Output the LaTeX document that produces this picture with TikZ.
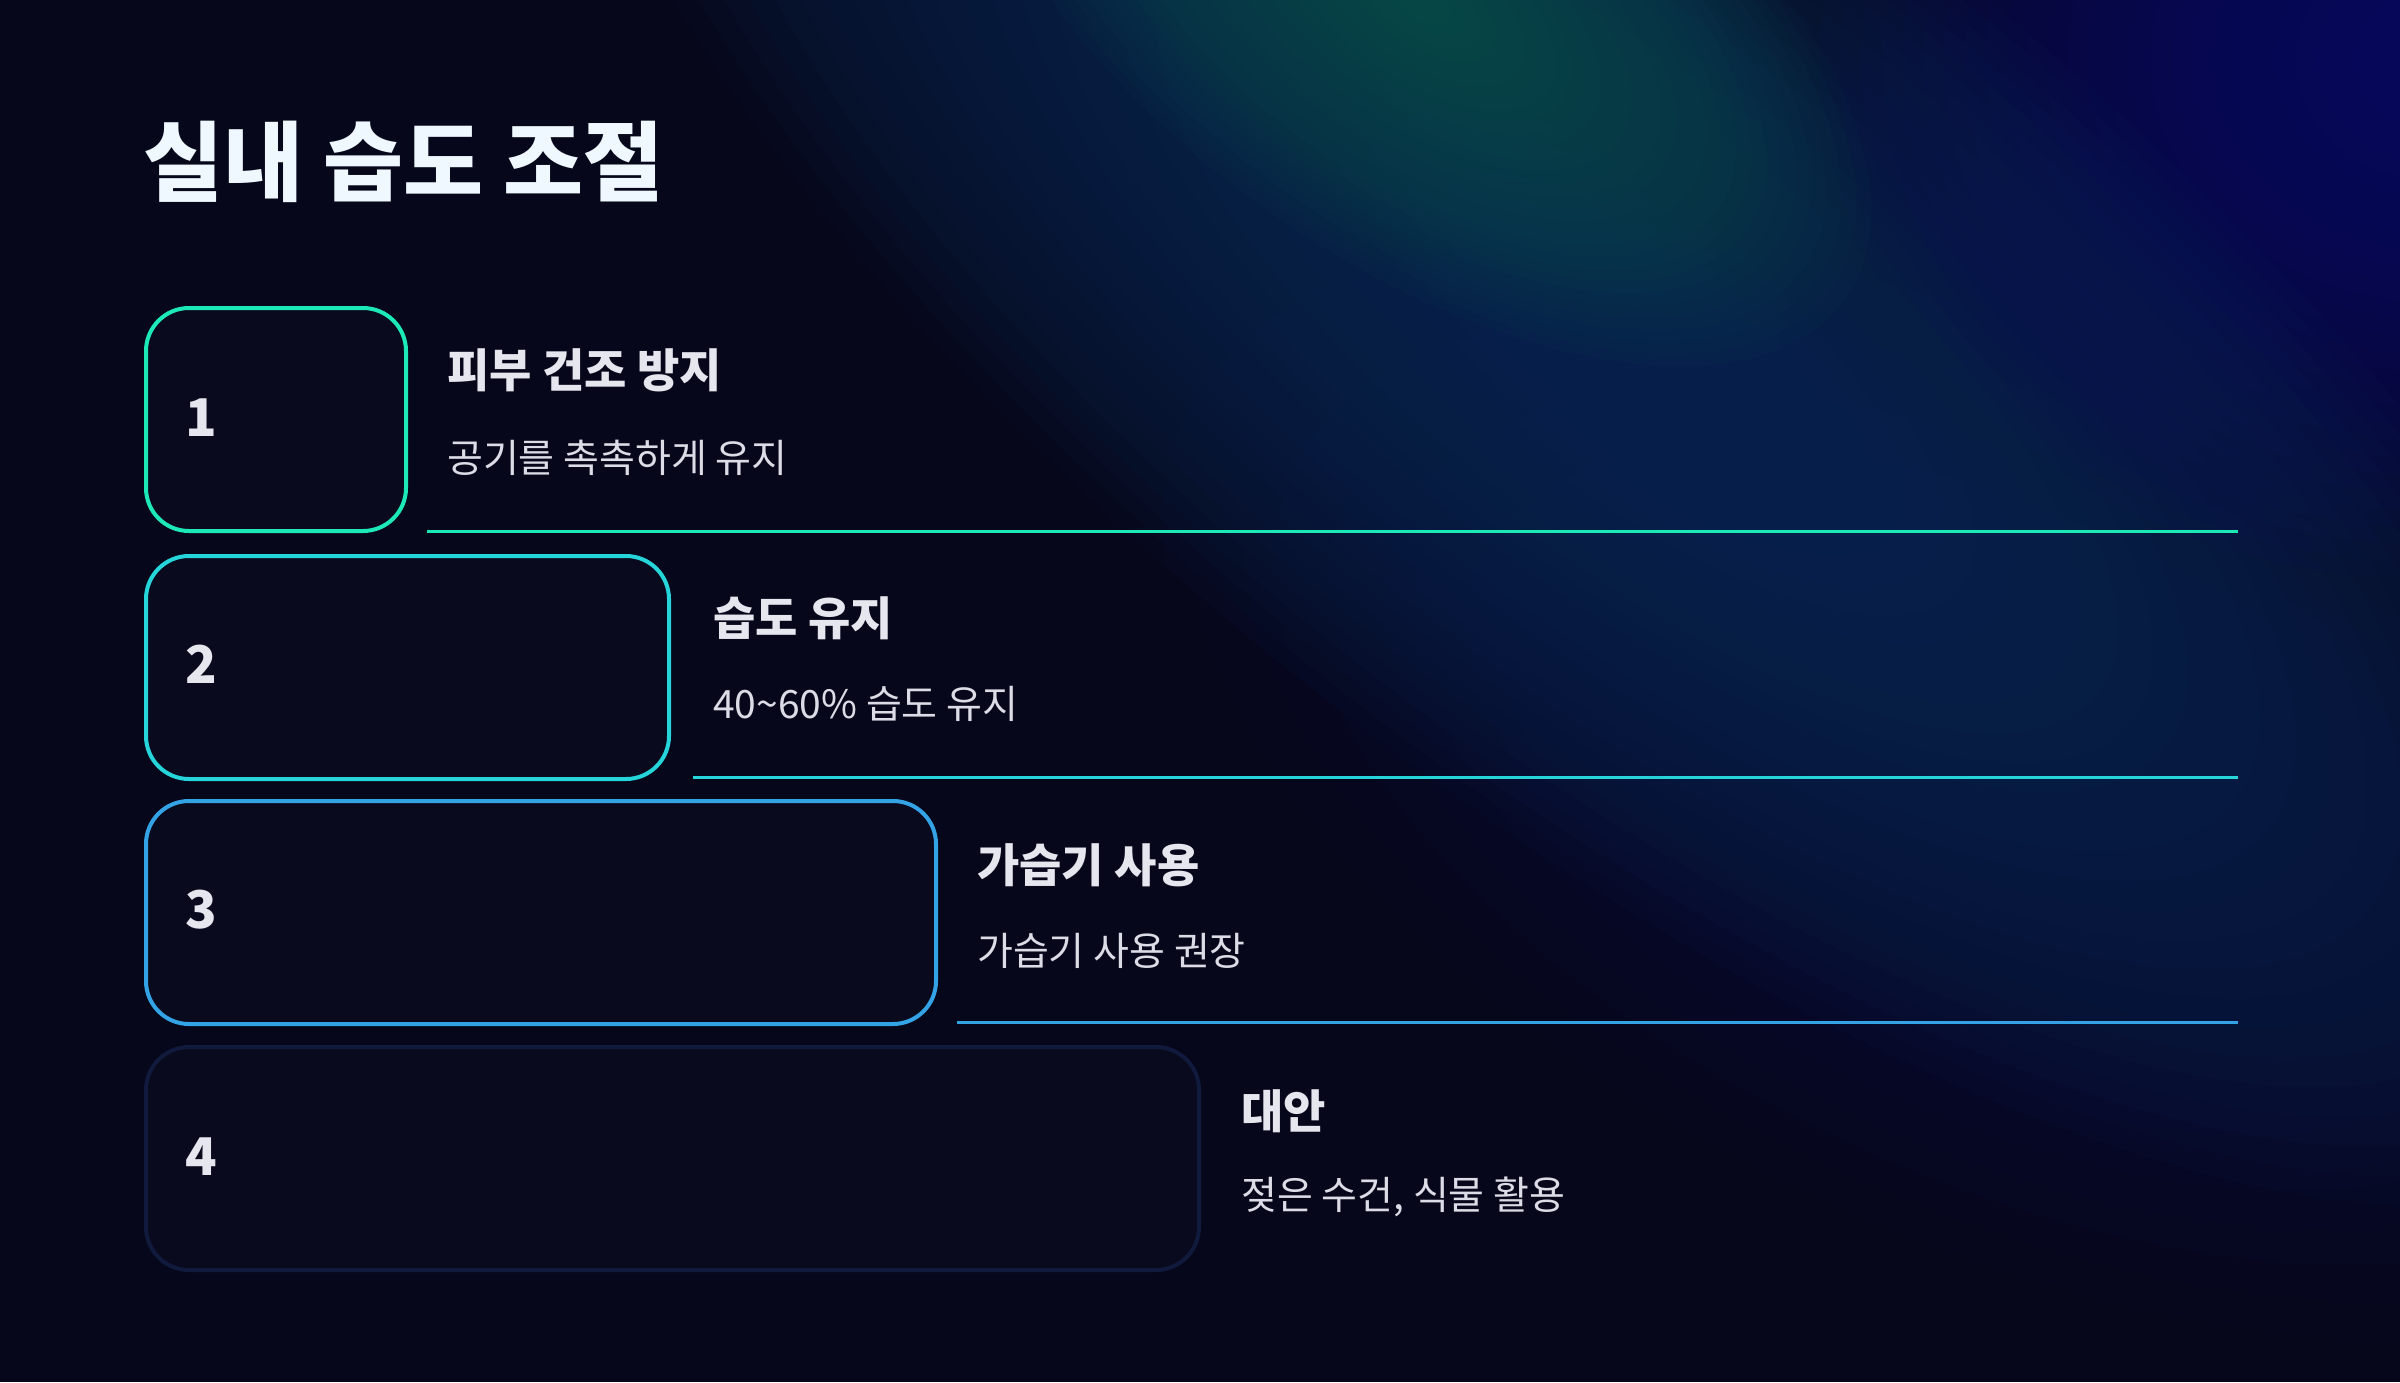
\documentclass[tikz,border=0pt]{standalone}
\usepackage{fontspec}
\setmainfont{Noto Sans CJK KR}
\definecolor{bgc}{HTML}{06071A}
\definecolor{bandc}{HTML}{0A2C58}
\definecolor{tealc}{HTML}{0E5A58}
\definecolor{indigoc}{HTML}{0C1470}
\definecolor{dimc}{HTML}{0A0C40}
\definecolor{boxfill}{HTML}{0A0A1E}
\definecolor{ca}{HTML}{1DE9B6}
\definecolor{cb}{HTML}{25D5D9}
\definecolor{cc}{HTML}{34A3E6}
\definecolor{cd}{HTML}{101A3C}
\definecolor{titlec}{HTML}{F0F8FF}
\definecolor{headc}{HTML}{E6E6EE}
\definecolor{subc}{HTML}{DCDCE6}
\newcommand{\glowblob}[7]{%
  \foreach \k in {1,...,30}{%
    \fill[#1, fill opacity=#7] (#2,#3) ellipse [x radius={#4/30*\k}, y radius={#5/30*\k}, rotate=#6];
  }%
}
\tikzset{
  stepbox/.style={draw, line width=4pt, fill=boxfill, rounded corners=43pt, minimum height=223pt, anchor=north west, inner sep=0pt},
  numtext/.style={anchor=west, inner sep=0pt, text=headc, font=\fontsize{52}{60}\selectfont\bfseries},
  headtext/.style={anchor=west, inner sep=0pt, text=headc, font=\fontsize{46}{54}\selectfont\bfseries},
  subtext/.style={anchor=west, inner sep=0pt, text=subc, font=\fontsize{39}{46}\selectfont},
  rule/.style={line width=3pt}
}
\begin{document}
\begin{tikzpicture}[x=1pt,y=-1pt]
\useasboundingbox (0,0) rectangle (2400,1382);
\fill[bgc] (0,0) rectangle (2400,1382);
\begin{scope}
\clip (0,0) rectangle (2400,1382);
\glowblob{dimc}{2000}{800}{900}{450}{-25}{0.04}
\glowblob{bandc}{1620}{320}{1300}{480}{-38}{0.07}
\glowblob{tealc}{1420}{0}{520}{260}{-35}{0.05}
\glowblob{indigoc}{2440}{60}{620}{520}{0}{0.06}
\end{scope}

\node[anchor=west, inner sep=0pt, text=titlec, font=\fontsize{87}{100}\selectfont\bfseries] (title) at (143,162) {실내 습도 조절};

% step 1
\node[stepbox, draw=ca, minimum width=260pt] (b1) at (144,306) {};
\node[numtext] (n1) at (185,418) {1};
\node[headtext] (h1) at (447,370) {피부 건조 방지};
\node[subtext] (s1) at (447,458) {공기를 촉촉하게 유지};
\coordinate (l1a) at (427,531);
\coordinate (l1b) at (2238,531);
\draw[rule, ca] (l1a) -- (l1b);

% step 2
\node[stepbox, draw=cb, minimum width=523pt] (b2) at (144,554) {};
\node[numtext] (n2) at (185,664) {2};
\node[headtext] (h2) at (713,618) {습도 유지};
\node[subtext] (s2) at (713,704) {40{\char"7E}60\% 습도 유지};
\coordinate (l2a) at (693,777);
\coordinate (l2b) at (2238,777);
\draw[rule, cb] (l2a) -- (l2b);

% step 3
\node[stepbox, draw=cc, minimum width=790pt] (b3) at (144,799) {};
\node[numtext] (n3) at (185,910) {3};
\node[headtext] (h3) at (977,865) {가습기 사용};
\node[subtext] (s3) at (977,951) {가습기 사용 권장};
\coordinate (l3a) at (957,1022);
\coordinate (l3b) at (2238,1022);
\draw[rule, cc] (l3a) -- (l3b);

% step 4
\node[stepbox, draw=cd, minimum width=1053pt] (b4) at (144,1045) {};
\node[numtext] (n4) at (185,1157) {4};
\node[headtext] (h4) at (1241,1111) {대안};
\node[subtext] (s4) at (1241,1197) {젖은 수건, 식물 활용};
\end{tikzpicture}
\end{document}
